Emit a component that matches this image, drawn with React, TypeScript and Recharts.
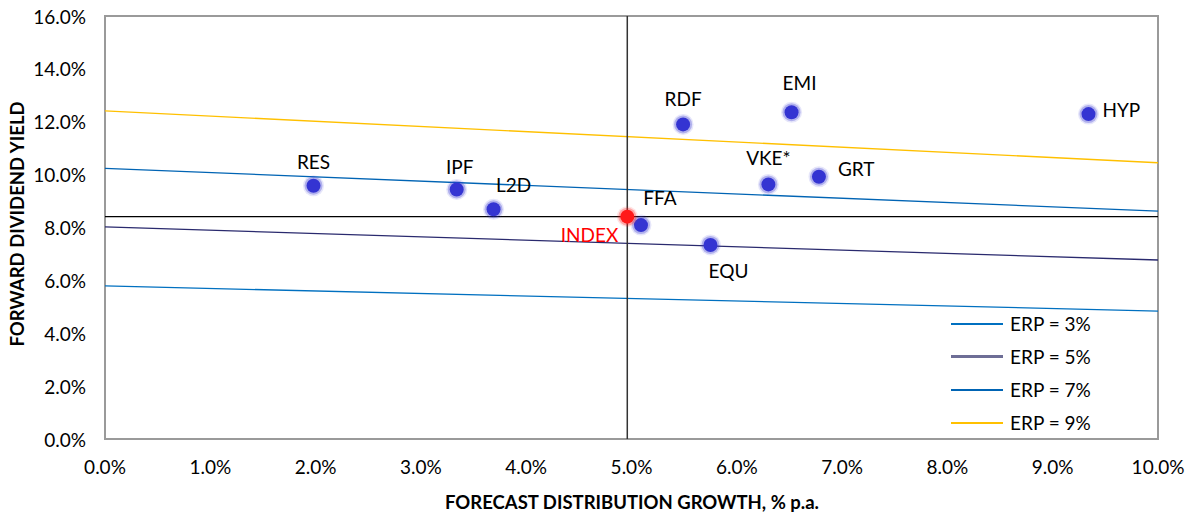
import React from "react";
import {
  ScatterChart,
  Scatter,
  XAxis,
  YAxis,
  ReferenceLine,
  ReferenceArea,
  Label,
} from "recharts";

// ─── Data ────────────────────────────────────────────────────────────────────

const funds = ["RES", "IPF", "L2D", "FFA", "EQU", "RDF", "EMI", "VKE*", "GRT", "HYP"];
const growth = [1.98, 3.34, 3.69, 5.09, 5.75, 5.49, 6.52, 6.3, 6.78, 9.34];
const dividendYield = [9.58, 9.44, 8.69, 8.09, 7.34, 11.9, 12.36, 9.63, 9.92, 12.29];

const indexName = "INDEX";
const indexGrowth = 4.96;
const indexYield = 8.41;

const erpNames = ["ERP = 3%", "ERP = 5%", "ERP = 7%", "ERP = 9%"];
const erpAtZero = [5.79, 8.02, 10.24, 12.41];
const erpAtTen = [4.84, 6.77, 8.62, 10.45];

const xTicks = [0, 1, 2, 3, 4, 5, 6, 7, 8, 9, 10];
const yTicks = [0, 2, 4, 6, 8, 10, 12, 14, 16];

// ─── Styling ─────────────────────────────────────────────────────────────────

const FONT = "Lato, 'Open Sans', sans-serif";
const ERP_COLORS = ["#0070c0", "#2a2a6e", "#0064b4", "#ffc000"];
const ERP_LEGEND_COLORS = ["#0070c0", "#6e6e96", "#0064b4", "#ffc000"];
const DOT_BLUE = "#3434d2";
const DOT_RED = "#ff1a1a";

// label offsets relative to the dot centre: [dx, dy, anchor]
const LABEL_PLACE: Record<string, [number, number, string]> = {
  RES: [0, -24, "middle"],
  IPF: [3, -23, "middle"],
  L2D: [20, -25, "middle"],
  FFA: [19, -28, "middle"],
  EQU: [18, 26, "middle"],
  RDF: [0, -26, "middle"],
  EMI: [8, -30, "middle"],
  "VKE*": [0, -27, "middle"],
  GRT: [19, -8, "start"],
  HYP: [14, -5, "start"],
  INDEX: [-9, 18, "end"],
};

const fundData = funds.map((name, i) => ({ name, x: growth[i], y: dividendYield[i] }));
const indexData = [{ name: indexName, x: indexGrowth, y: indexYield }];

const pct = (v: number) => `${v.toFixed(1)}%`;

const GlowDot = (color: string, labelColor: string) => (props: any) => {
  const { cx, cy, payload } = props;
  if (cx == null || cy == null) return null;
  const place = LABEL_PLACE[payload.name] ?? [0, -24, "middle"];
  return (
    <g>
      <circle cx={cx} cy={cy} r={10.5} fill={color} opacity={0.12} />
      <circle cx={cx} cy={cy} r={9} fill={color} opacity={0.3} />
      <circle cx={cx} cy={cy} r={7} fill={color} />
      <text
        x={cx + place[0]}
        y={cy + place[1]}
        textAnchor={place[2] as any}
        dominantBaseline="central"
        fontFamily={FONT}
        fontSize={19}
        fill={labelColor}
      >
        {payload.name}
      </text>
    </g>
  );
};

const XTick = (props: any) => {
  const { x, y, payload } = props;
  return (
    <text x={x} y={y + 19} textAnchor="middle" dominantBaseline="central" fontFamily={FONT} fontSize={19} fill="#000">
      {pct(payload.value)}
    </text>
  );
};

const YTick = (props: any) => {
  const { y, payload } = props;
  return (
    <text x={86} y={y} textAnchor="end" dominantBaseline="central" fontFamily={FONT} fontSize={19} fill="#000">
      {pct(payload.value)}
    </text>
  );
};

const ErpLegend = () => (
  <div
    style={{
      position: "absolute",
      left: 951,
      top: 307,
      fontFamily: FONT,
      fontSize: 19,
      color: "#000",
    }}
  >
    {erpNames.map((name, i) => (
      <div key={name} style={{ display: "flex", alignItems: "center", height: 33 }}>
        <div
          style={{
            width: 52,
            height: i === 1 ? 2.5 : 2,
            background: ERP_LEGEND_COLORS[i],
            marginRight: 7,
          }}
        />
        <span>{name}</span>
      </div>
    ))}
  </div>
);

export default function App() {
  return (
    <div style={{ position: "absolute", left: 0, top: 0, width: 1186, height: 516, background: "#fff" }}>
      <ScatterChart width={1186} height={516} margin={{ top: 16, right: 28, bottom: 5, left: 0 }}>
        <XAxis
          type="number"
          dataKey="x"
          domain={[0, 10]}
          ticks={xTicks}
          tick={<XTick />}
          tickLine={false}
          axisLine={false}
          height={72}
          interval={0}
        >
          <Label
            content={() => (
              <text x={632} y={502} textAnchor="middle" dominantBaseline="central" fontFamily={FONT} fontWeight={700} fontSize={18.5} fill="#000">
                FORECAST DISTRIBUTION GROWTH, % p.a.
              </text>
            )}
          />
        </XAxis>
        <YAxis
          type="number"
          dataKey="y"
          domain={[0, 16]}
          ticks={yTicks}
          tick={<YTick />}
          tickLine={false}
          axisLine={false}
          width={105}
          interval={0}
        >
          <Label
            content={() => (
              <text
                x={17}
                y={224}
                transform="rotate(-90 17 224)"
                textAnchor="middle"
                dominantBaseline="central"
                fontFamily={FONT}
                fontWeight={700}
                fontSize={18.5}
                fill="#000"
              >
                FORWARD DIVIDEND YIELD
              </text>
            )}
          />
        </YAxis>
        <ReferenceArea x1={0} x2={10} y1={0} y2={16} fill="none" stroke="#9a9a9a" strokeWidth={2} />
        {erpNames.map((name, i) => (
          <ReferenceLine
            key={name}
            segment={[
              { x: 0, y: erpAtZero[i] },
              { x: 10, y: erpAtTen[i] },
            ]}
            stroke={ERP_COLORS[i]}
            strokeWidth={1.3}
          />
        ))}
        <ReferenceLine y={indexYield} stroke="#000" strokeWidth={1.3} />
        <ReferenceLine x={indexGrowth} stroke="#333" strokeWidth={1.5} />
        <Scatter data={fundData} shape={GlowDot(DOT_BLUE, "#000")} isAnimationActive={false} />
        <Scatter data={indexData} shape={GlowDot(DOT_RED, "#ff0000")} isAnimationActive={false} />
      </ScatterChart>
      <ErpLegend />
    </div>
  );
}
